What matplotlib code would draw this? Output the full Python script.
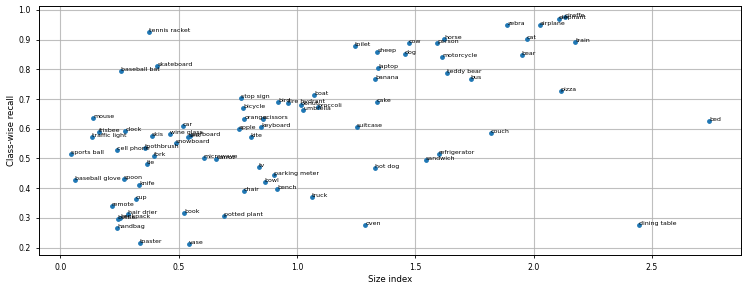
import matplotlib
matplotlib.use("Agg")
import matplotlib.pyplot as plt

labels = ["tennis racket", "skateboard", "baseball bat", "stop sign", "bicycle", "mouse",
          "orange", "scissors", "car", "apple", "keyboard", "frisbee", "clock",
          "traffic light", "skis", "wine glass", "kite", "snowboard", "sink", "surfboard",
          "toothbrush", "cell phone", "sports ball", "fork", "tie", "microwave", "carrot",
          "tv", "baseball glove", "spoon", "knife", "cup", "remote", "chair", "hair drier",
          "bottle", "backpack", "handbag", "toaster", "book", "potted plant", "vase",
          "parking meter", "bowl", "bench", "truck", "oven", "hot dog", "sandwich",
          "refrigerator", "toilet", "sheep", "cow", "dog", "person", "horse", "motorcycle",
          "laptop", "banana", "teddy bear", "bus", "cake", "suitcase", "couch", "zebra",
          "airplane", "elephant", "giraffe", "cat", "train", "bear", "pizza", "bed",
          "dining table", "bird", "fire hydrant", "boat", "donut", "umbrella", "broccoli"]

size_index = [0.375, 0.410, 0.255, 0.765, 0.773, 0.139,
              0.777, 0.858, 0.518, 0.755, 0.849, 0.163, 0.275,
              0.135, 0.386, 0.465, 0.804, 0.487, 0.541, 0.549,
              0.358, 0.241, 0.045, 0.396, 0.365, 0.606, 0.659,
              0.840, 0.062, 0.269, 0.332, 0.320, 0.217, 0.775, 0.285,
              0.242, 0.252, 0.241, 0.337, 0.523, 0.693, 0.542,
              0.904, 0.863, 0.917, 1.062, 1.289, 1.331, 1.545,
              1.599, 1.246, 1.339, 1.473, 1.456, 1.593, 1.621, 1.613,
              1.344, 1.330, 1.634, 1.734, 1.337, 1.252, 1.818, 1.889,
              2.025, 2.106, 2.131, 1.970, 2.176, 1.949, 2.114, 2.742,
              2.446, 0.921, 0.962, 1.072, 1.016, 1.027, 1.087]

recall = [0.927, 0.8125, 0.795, 0.705, 0.670, 0.636,
          0.634, 0.633, 0.610, 0.599, 0.606, 0.588, 0.594,
          0.571, 0.577, 0.581, 0.571, 0.553, 0.573, 0.577,
          0.536, 0.529, 0.516, 0.509, 0.481, 0.501, 0.498,
          0.472, 0.427, 0.430, 0.410, 0.365, 0.341, 0.389, 0.314,
          0.297, 0.300, 0.265, 0.2145, 0.3155, 0.306, 0.213,
          0.443, 0.420, 0.397, 0.370, 0.276, 0.467, 0.494,
          0.514, 0.878, 0.858, 0.889, 0.852, 0.889, 0.902, 0.843,
          0.806, 0.768, 0.788, 0.768, 0.690, 0.605, 0.586, 0.948,
          0.948, 0.970, 0.9775, 0.902, 0.892, 0.847, 0.726, 0.626,
          0.276, 0.691, 0.688, 0.714, 0.679, 0.664, 0.672]

fig = plt.figure(figsize=(7.48, 2.89), dpi=100)
ax = fig.add_axes([0.0525, 0.1176, 0.9381, 0.8627])
ax.scatter(size_index, recall, s=6, color="#1f77b4", zorder=2)
for lab, x, y in zip(labels, size_index, recall):
    ax.text(x, y, lab, fontsize=4.5, zorder=3)

ax.set_xlim(-0.089, 2.876)
ax.set_ylim(0.175, 1.0145)
ax.set_xticks([0.0, 0.5, 1.0, 1.5, 2.0, 2.5])
ax.set_yticks([0.2, 0.3, 0.4, 0.5, 0.6, 0.7, 0.8, 0.9, 1.0])
ax.tick_params(labelsize=5.6, length=2.5, width=0.6)
ax.grid(True, color="#b0b0b0", linewidth=0.8, alpha=0.8)
ax.set_axisbelow(True)
for sp in ax.spines.values():
    sp.set_linewidth(0.7)
ax.set_xlabel("Size index", fontsize=6.2, labelpad=2)
ax.set_ylabel("Class-wise recall", fontsize=6.2, labelpad=2)

fig.savefig("out.png", dpi=100)
